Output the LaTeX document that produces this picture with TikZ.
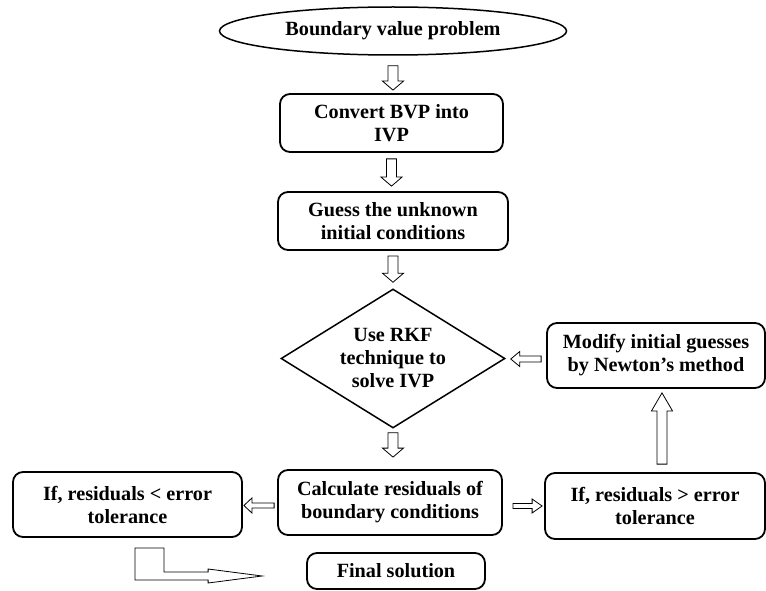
\documentclass[tikz,border=0pt]{standalone}
\usepackage{fontspec}
\setmainfont{Liberation Serif}
\usetikzlibrary{shapes.geometric,calc}
\newcommand\txtfont{\fontsize{20.2}{23}\selectfont\bfseries}
\tikzset{
  box/.style={draw, line width=1.8pt, rounded corners=10pt, align=center, font=\txtfont, inner sep=0pt},
  blk/.style={draw, line width=0.8pt, fill=white, line join=miter},
}
% block arrows: #1 start, #2 tip, #3 shaft half width, #4 head half width, #5 head length
\newcommand\blkdown[5]{\draw[blk] let \p1=(#1), \p2=(#2) in
  (\x1-#3,\y1) -- (\x1+#3,\y1) -- (\x1+#3,\y2+#5) -- (\x1+#4,\y2+#5) -- (\x1,\y2)
  -- (\x1-#4,\y2+#5) -- (\x1-#3,\y2+#5) -- cycle;}
\newcommand\blkup[5]{\draw[blk] let \p1=(#1), \p2=(#2) in
  (\x1-#3,\y1) -- (\x1+#3,\y1) -- (\x1+#3,\y2-#5) -- (\x1+#4,\y2-#5) -- (\x1,\y2)
  -- (\x1-#4,\y2-#5) -- (\x1-#3,\y2-#5) -- cycle;}
\newcommand\blkleft[5]{\draw[blk] let \p1=(#1), \p2=(#2) in
  (\x1,\y1+#3) -- (\x2+#5,\y1+#3) -- (\x2+#5,\y1+#4) -- (\x2,\y1)
  -- (\x2+#5,\y1-#4) -- (\x2+#5,\y1-#3) -- (\x1,\y1-#3) -- cycle;}
\newcommand\blkright[5]{\draw[blk] let \p1=(#1), \p2=(#2) in
  (\x1,\y1+#3) -- (\x2-#5,\y1+#3) -- (\x2-#5,\y1+#4) -- (\x2,\y1)
  -- (\x2-#5,\y1-#4) -- (\x2-#5,\y1-#3) -- (\x1,\y1-#3) -- cycle;}
\begin{document}
\begin{tikzpicture}[x=1pt,y=-1pt]
\useasboundingbox (0,0) rectangle (766,591);
\node[ellipse, draw, line width=1.5pt, minimum width=347pt, minimum height=48pt, inner sep=0pt, font=\txtfont] (bvp) at (393,31) {Boundary value problem};
\node[box, minimum width=223pt, minimum height=58pt] (convert) at (391.5,123) {Convert BVP into\\IVP};
\node[box, minimum width=230pt, minimum height=58pt] (guess) at (393,221) {Guess the unknown\\initial conditions};
\node[diamond, draw, line width=1.5pt, aspect=1.61, inner sep=0pt, minimum width=224pt, minimum height=139pt, align=center, font=\txtfont] (rkf) at (393,358.5) {Use RKF\\technique to\\solve IVP};
\node[box, minimum width=218pt, minimum height=65pt] (modify) at (656,355.5) {Modify initial guesses\\by Newton’s method};
\node[box, minimum width=224pt, minimum height=65pt] (calc) at (390,502.5) {Calculate residuals of\\boundary conditions};
\node[box, minimum width=229pt, minimum height=65pt] (less) at (127.5,504.5) {If, residuals < error\\tolerance};
\node[box, minimum width=220pt, minimum height=66pt] (greater) at (655,506) {If, residuals > error\\tolerance};
\node[box, minimum width=178pt, minimum height=36pt] (final) at (396,571) {Final solution};

\blkdown{$(bvp.south)+(0,10)$}{$(convert.north)+(0,-3)$}{5pt}{10.5pt}{9pt}
\blkdown{$(convert.south)+(0,6)$}{$(guess.north)+(0,-5)$}{5pt}{10.5pt}{9pt}
\blkdown{$(guess.south)+(0,5)$}{$(rkf.north)+(0,-6)$}{5pt}{10.5pt}{9pt}
\blkdown{$(rkf.south)+(0,4)$}{$(calc.north)+(0,-12)$}{5pt}{10.5pt}{9pt}
\blkleft{$(calc.west)+(-3,3)$}{$(less.east)+(1,3)$}{2.5pt}{7.5pt}{8pt}
\blkright{$(calc.east)+(10,3.5)$}{$(greater.west)+(-2,3.5)$}{2.5pt}{7pt}{10pt}
\blkup{$(greater.north)+(7,-8)$}{$(modify.south)+(7,4)$}{5pt}{10.5pt}{18pt}
\blkleft{$(modify.west)+(-5,3.5)$}{$(rkf.east)+(5,3.5)$}{3pt}{7.5pt}{9pt}
\draw[blk] let \p1=($(less.south)+(7.5,10)$), \p2=($(final.west)+(-44,5)$) in
  (\p1) -- (\x1+29pt,\y1) -- (\x1+29pt,\y2+4pt) -- (\x2-54pt,\y2+4pt) -- (\x2-54pt,\y2+7pt)
  -- (\p2) -- (\x2-54pt,\y2-7pt) -- (\x2-54pt,\y2-4pt) -- (\x1,\y2-4pt) -- cycle;
\end{tikzpicture}
\end{document}
